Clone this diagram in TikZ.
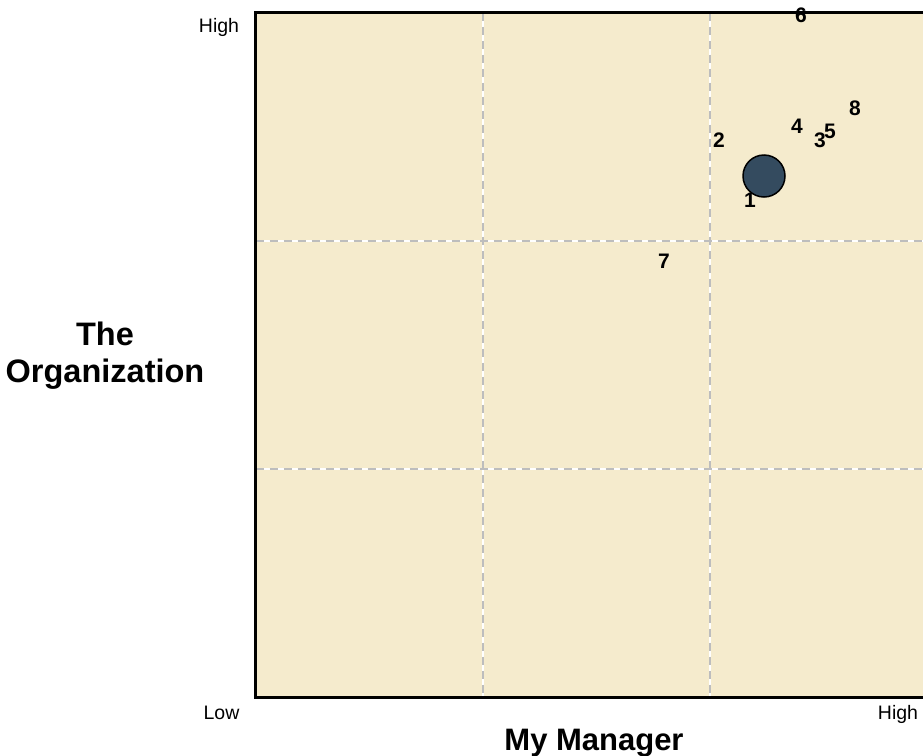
\documentclass[tikz,border=0pt]{standalone}
\usepackage{fontspec}
\setmainfont{Liberation Sans}
\definecolor{cream}{HTML}{F5EBCD}
\definecolor{dotfill}{HTML}{344B5F}
\definecolor{gridgray}{HTML}{BDBDBD}
\begin{document}
\begin{tikzpicture}[x=1pt,y=-1pt,
  ticklabel/.style={font=\fontsize{19.5}{22}\selectfont, inner sep=0pt, anchor=base},
  axistitle/.style={font=\bfseries\fontsize{31}{37}\selectfont, inner sep=0pt, anchor=base, align=center},
  ptlabel/.style={font=\bfseries\fontsize{21}{24}\selectfont, inner sep=0pt},
  gridbase/.style={white, line width=2.5pt},
  gridline/.style={gridgray, line width=2.5pt, dash pattern=on 8pt off 6pt},
  dot/.style={circle, draw=black, line width=1.5pt, fill=dotfill, minimum size=42pt, inner sep=0pt}
]
\useasboundingbox (0,0) rectangle (923,755);
\clip (0,0) rectangle (923,755);
% plot area
\fill[cream] (255.5,12.5) rectangle (937,697.5);
% grid
\foreach \gx in {483,710} {
  \draw[gridbase] (\gx,12.5) -- (\gx,697.5);
  \draw[gridline] (\gx,12.5) -- (\gx,697.5);
}
\foreach \gy in {241,469} {
  \draw[gridbase] (255.5,\gy) -- (937,\gy);
  \draw[gridline] (255.5,\gy) -- (937,\gy);
}
\draw[black, line width=3pt] (937,12.5) -- (255.5,12.5) -- (255.5,697.5) -- (937,697.5);
% tick labels
\node[ticklabel] (yhigh) at (219,32) {High};
\node[ticklabel] (xlow) at (221.5,719) {Low};
\node[ticklabel] (xhigh) at (898,719) {High};
% axis titles
\node[axistitle] (xtitle) at (594,750) {My Manager};
\node[axistitle, font=\bfseries\fontsize{32.5}{37}\selectfont] (ytitle) at (105,382) {The\\Organization};
% point labels
\node[ptlabel] (p1) at (750,200) {1};
\node[dot] (pdot) at (764,176) {};
\node[ptlabel] (p2) at (719,140) {2};
\node[ptlabel] (p3) at (820,140) {3};
\node[ptlabel] (p4) at (797,126) {4};
\node[ptlabel] (p5) at (830,131) {5};
\node[ptlabel] (p6) at (801,15) {6};
\node[ptlabel] (p7) at (664,261) {7};
\node[ptlabel] (p8) at (855,108) {8};
\end{tikzpicture}
\end{document}
